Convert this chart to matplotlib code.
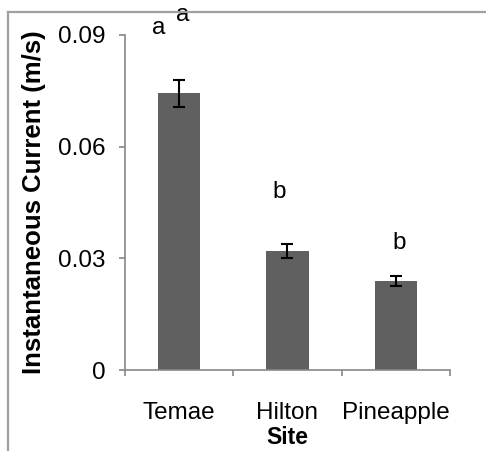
import matplotlib
matplotlib.use("Agg")
import matplotlib.pyplot as plt
from matplotlib.lines import Line2D

sites = ["Temae", "Hilton", "Pineapple"]
current = [0.0743, 0.0320, 0.0239]
errors = [0.0037, 0.0019, 0.0013]
letters = ["a", "b", "b"]
yticks = [0, 0.03, 0.06, 0.09]
ytick_labels = ["0", "0.03", "0.06", "0.09"]

plt.rcParams["font.family"] = ["Liberation Sans", "DejaVu Sans"]

fig = plt.figure(figsize=(4.86, 4.51), dpi=100)
ax = fig.add_axes([0.2572, 0.1796, 0.6687, 0.7428])

x = list(range(len(sites)))
ax.bar(x, current, width=0.39, color="#606060", zorder=2)
ax.errorbar(x, current, yerr=errors, fmt="none", ecolor="black",
            elinewidth=1.5, capsize=4, capthick=1.5, zorder=3)

# significance letters
ax.text(x[0] - 0.19, 0.0918, letters[0], fontsize=17.5, ha="center", va="center")
ax.text(x[0] + 0.03, 0.0955, "a", fontsize=17.5, ha="center", va="center")
ax.text(x[1] - 0.08, current[1] + 0.0157, letters[1], fontsize=17.5, ha="center", va="center")
ax.text(x[2] + 0.03, current[2] + 0.0103, letters[2], fontsize=17.5, ha="center", va="center")

ax.set_xlim(-0.5, 2.5)
ax.set_ylim(0, 0.09)
ax.set_yticks(yticks)
ax.set_yticklabels(ytick_labels, fontsize=17.5)
ax.set_xticks(x)
ax.set_xticklabels(sites, fontsize=17.5)
ax.set_xticks([-0.5, 0.5, 1.5, 2.5], minor=True)
ax.tick_params(axis="x", which="major", length=0, pad=23)
ax.tick_params(axis="x", which="minor", length=4, width=1.2, color="#888888", direction="out")
ax.tick_params(axis="y", length=4, width=1.2, color="#888888", pad=10)

for s in ["top", "right"]:
    ax.spines[s].set_visible(False)
for s in ["left", "bottom"]:
    ax.spines[s].set_color("#888888")
    ax.spines[s].set_linewidth(1.2)

ax.set_xlabel("Site", fontsize=16.5, fontweight="bold", labelpad=1.5)
ax.set_ylabel("Instantaneous Current (m/s)", fontsize=18.5, fontweight="bold", labelpad=8.5)

# outer frame lines of the original figure
fig.add_artist(Line2D([8 / 486, 1.0], [1 - 12 / 451, 1 - 12 / 451],
                      transform=fig.transFigure, color="#a0a0a0", lw=1.6))
fig.add_artist(Line2D([8 / 486, 8 / 486], [0, 1 - 12 / 451],
                      transform=fig.transFigure, color="#a0a0a0", lw=1.6))

fig.savefig("out.png", dpi=100)
